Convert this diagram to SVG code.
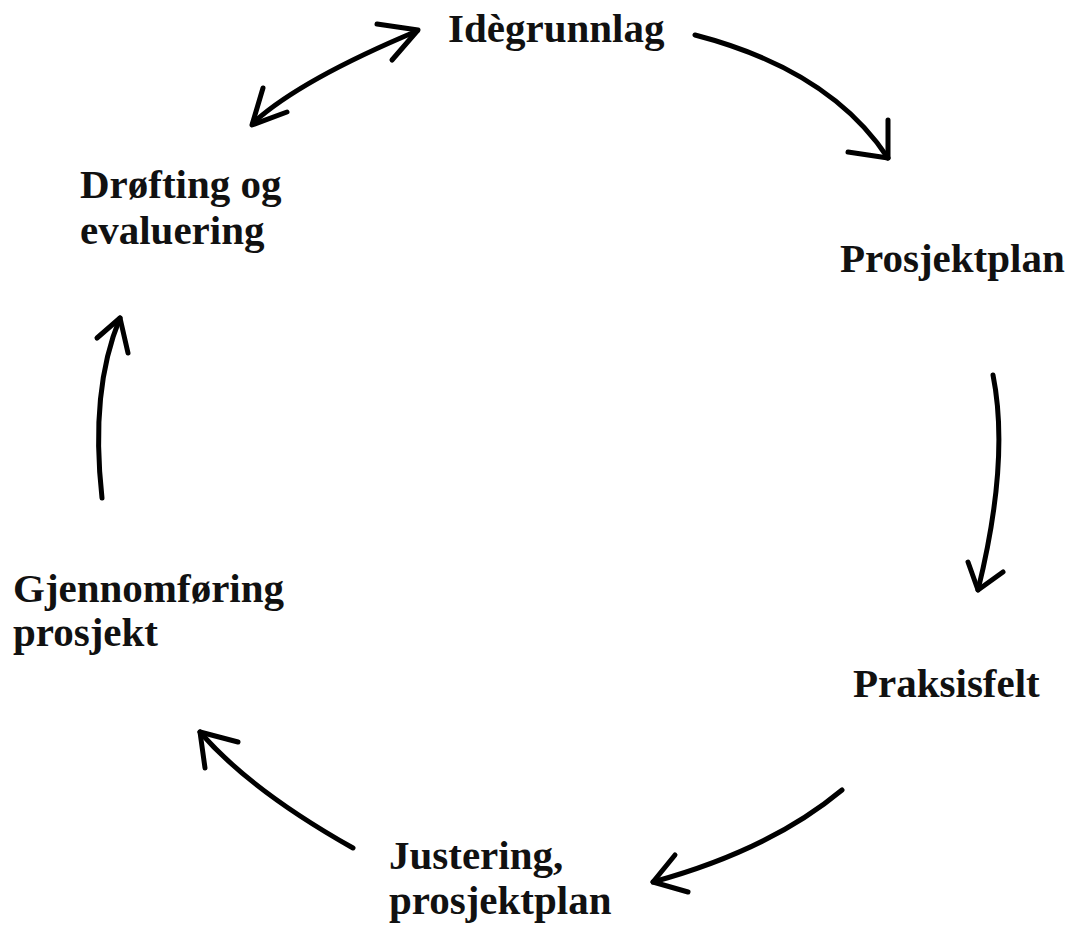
<svg xmlns="http://www.w3.org/2000/svg" width="1073" height="926" viewBox="0 0 1073 926">
<style>
.lbl{font-family:"Liberation Serif","Times New Roman",serif;font-weight:bold;font-size:41px;fill:#111}
.c{fill:none;stroke:#000;stroke-width:5;stroke-linecap:round;stroke-linejoin:round}
</style>
<rect width="1073" height="926" fill="#fff"/>
<g id="connectors">
<path class="c" d="M253,123 Q300,80 417,31"/>
<path class="c" d="M377,24 L418,30 L392,60"/>
<path class="c" d="M263,88 L252,125 L287,112"/>
<path class="c" d="M695,35 Q830,70 888,158"/>
<path class="c" d="M888,120 L888,158 L848,152"/>
<path class="c" d="M993,375 Q1010,460 978,590"/>
<path class="c" d="M968,562 L978,590 L1003,572"/>
<path class="c" d="M842,790 Q770,850 653,882"/>
<path class="c" d="M675,855 L653,882 L688,892"/>
<path class="c" d="M353,848 Q250,790 200,732"/>
<path class="c" d="M238,742 L200,732 L205,768"/>
<path class="c" d="M102,498 Q90,390 120,318"/>
<path class="c" d="M97,338 L120,318 L128,353"/>
</g>
<g id="node-idegrunnlag"><text class="lbl" x="448" y="42">Idègrunnlag</text></g>
<g id="node-prosjektplan"><text class="lbl" x="840" y="272">Prosjektplan</text></g>
<g id="node-praksisfelt"><text class="lbl" x="853" y="697">Praksisfelt</text></g>
<g id="node-justering"><text class="lbl" x="389" y="869">Justering,</text><text class="lbl" x="389" y="914">prosjektplan</text></g>
<g id="node-gjennomforing"><text class="lbl" x="13" y="602">Gjennomføring</text><text class="lbl" x="13" y="646">prosjekt</text></g>
<g id="node-drofting"><text class="lbl" x="80" y="198">Drøfting og</text><text class="lbl" x="80" y="244">evaluering</text></g>
</svg>
